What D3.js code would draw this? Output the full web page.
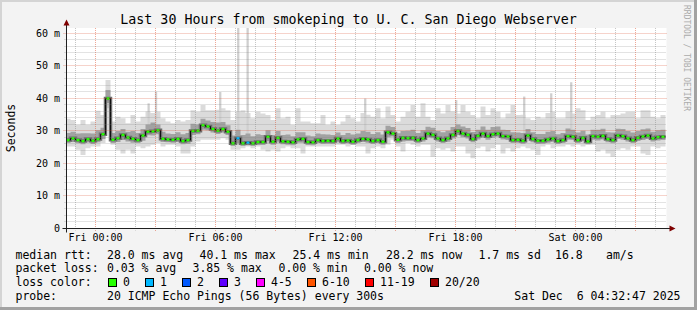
<!DOCTYPE html>
<html><head><meta charset="utf-8">
<script src="https://cdnjs.cloudflare.com/ajax/libs/d3/7.8.5/d3.min.js"></script>
<style>
body{margin:0;background:#f3f3f3}
svg{display:block}
text{font-family:"DejaVu Sans Mono",monospace;fill:#000}
</style>
</head><body>
<svg id="c" width="697" height="310"></svg>
<script>
// ---------------- data ----------------
const title = "Last 30 Hours from smokeping to U. C. San Diego Webserver";
const yAxisTitle = "Seconds";
const windowStartHour = -1.454;   // hours relative to Fri 00:00 (Thu 22:33)
const windowEndHour = 28.546;     // Sat 04:32:47
const firstStepHour = -1.5;       // data steps start Thu 22:30
const stepHours = 0.25;           // 15-minute steps
const pingStepHours = 5/60;       // one probe round every 300 s

// median RTT (ms), one value per 15 minutes
const median = [27.2,27.75,27.2,26.9,27.5,27.0,27.5,29.0,40.0,27.3,
  27.8,28.8,28.0,27.6,27.2,28.6,29.8,29.9,30.2,27.6,
  27.4,27.3,27.6,26.9,27.2,30.0,30.1,31.8,31.4,30.6,
  30.1,30.6,29.8,26.2,27.8,26.2,26.4,26.2,26.6,26.6,
  28.2,26.7,27.9,26.8,26.7,26.5,27.4,27.6,26.6,26.5,
  27.2,26.9,27.0,26.9,27.7,26.9,27.1,26.7,27.2,27.6,
  27.4,26.9,27.2,26.7,29.6,29.2,27.3,27.9,27.8,27.9,
  27.2,27.75,29.2,28.8,27.75,27.2,27.75,28.8,30.0,29.2,
  28.8,27.5,28.5,29.2,28.4,29.0,29.2,28.4,28.3,27.2,
  27.3,27.0,28.6,27.5,27.0,27.0,27.4,27.7,26.9,27.2,
  28.4,28.2,27.2,27.9,26.8,28.4,28.2,28.5,27.5,27.2,
  28.6,28.4,27.75,27.2,27.9,28.3,28.6,27.75,28.1,28.2];

// fastest ping of each step (ms)
const minRtt = [25.2,25.2,24.2,22.6,24.7,25.2,25.2,26.3,37.0,25.8,
  24.2,23.1,24.2,23.1,25.2,24.7,25.2,25.8,26.3,25.2,
  25.8,25.8,25.2,23.1,23.1,25.2,26.8,27.3,27.3,27.3,
  27.3,27.75,27.3,24.2,24.2,24.7,25.2,24.7,25.2,24.2,
  23.7,24.2,23.7,24.7,25.2,24.7,24.7,23.1,25.2,25.2,
  25.2,25.2,25.2,25.2,25.8,25.8,25.2,25.8,25.2,25.2,
  23.1,24.7,25.2,24.7,25.8,27.3,25.2,23.7,26.3,25.8,
  25.2,25.8,25.8,22.1,24.7,24.2,24.7,23.7,25.2,25.2,
  23.1,21.6,24.7,25.2,23.7,24.7,25.8,23.1,24.7,23.7,
  24.7,25.2,24.7,24.2,22.6,25.2,25.8,24.7,25.2,25.2,
  25.8,25.2,25.8,25.2,25.8,25.8,23.7,24.2,23.1,22.1,
  24.2,24.7,24.2,25.2,25.2,23.1,22.6,25.2,24.7,25.2];

// slowest ping of each step (ms), isolated outliers listed separately below
const maxRtt = [33.8,33.4,31.9,33.4,31.9,32.9,36.2,34.9,45.7,32.9,
  34.4,33.9,32.4,34.9,32.9,34.4,36.0,35.5,35.9,33.9,
  32.9,32.4,33.4,32.9,33.4,36.4,35.9,38.0,36.4,36.4,
  36.5,37.0,36.4,33.4,36.0,36.4,35.5,33.9,35.9,35.4,
  34.9,33.4,37.0,33.9,34.4,31.9,37.0,32.9,32.9,32.4,
  32.4,34.9,31.9,32.9,31.9,32.9,34.9,33.9,32.9,35.5,
  35.0,34.4,37.0,33.9,37.5,34.9,32.9,34.4,35.9,38.0,
  34.4,38.5,34.4,33.4,37.0,35.4,38.0,36.0,35.4,38.0,
  35.9,34.9,33.9,37.5,34.9,37.0,35.9,33.9,35.4,38.0,
  34.9,35.0,33.9,33.4,34.4,33.9,35.5,35.9,33.9,33.9,
  36.0,35.4,37.0,36.4,33.4,34.4,34.9,35.9,33.9,34.9,
  34.9,35.4,35.9,35.9,33.9,36.4,36.4,34.4,33.9,34.9];

// single slow pings: [hour relative to Fri 00:00, rtt ms]
const outliers = [[2.6,38.5],[2.97,42.1],[6.18,42.0],[7.08,62.0],[7.55,62.0],
  [13.43,40.0],[17.98,39.5],[21.38,40.6],[22.73,41.6],[23.73,45.0]];

// lower / upper quartile of the pings of each step (ms)
const q25 = [26.3,26.6,26.2,25.9,26.5,26.0,26.5,27.5,38.6,26.3,
  26.6,27.2,26.8,26.4,26.3,27.0,28.7,28.6,29.0,26.6,
  26.5,26.4,26.6,25.9,26.1,28.8,29.0,30.4,30.2,29.5,
  29.1,29.5,28.8,25.4,26.2,25.4,25.6,25.4,25.7,25.7,
  26.9,25.8,26.8,25.9,25.8,25.6,26.4,26.4,25.7,25.6,
  26.3,26.0,26.1,26.0,26.7,26.0,26.2,25.8,26.3,26.6,
  26.4,26.0,26.3,25.8,28.1,28.3,26.3,26.8,26.9,26.9,
  26.3,26.8,28.0,27.8,26.8,26.3,26.7,27.7,28.8,28.1,
  27.7,26.5,27.4,28.0,27.3,27.9,28.2,27.4,27.2,26.3,
  26.4,26.1,27.5,26.5,26.0,26.1,26.4,26.7,26.0,26.3,
  27.3,27.2,26.3,26.9,25.9,27.3,27.1,27.4,26.5,26.2,
  27.5,27.3,26.8,26.3,26.9,27.2,27.5,26.8,27.1,27.2];
const q75 = [29.4,29.8,29.2,29.3,29.3,29.2,30.2,31.0,42.6,29.4,
  30.0,30.6,29.8,30.0,29.4,30.6,32.0,32.6,32.0,29.8,
  29.2,29.1,29.6,29.0,29.4,32.2,32.0,33.8,33.2,32.8,
  32.6,32.8,31.8,28.6,30.4,28.8,29.2,28.4,29.0,28.8,
  30.2,28.8,30.0,28.8,28.9,28.4,29.6,29.6,28.6,28.4,
  29.2,29.0,28.9,28.8,29.5,28.8,29.4,28.9,29.2,30.0,
  29.8,29.1,29.6,28.9,31.6,31.2,29.3,30.0,30.1,30.4,
  29.4,30.2,31.3,31.0,30.0,29.6,30.1,31.2,32.0,31.4,
  30.9,29.7,30.4,31.4,30.4,31.2,31.4,30.4,30.3,29.6,
  29.5,29.4,30.6,29.6,29.1,29.1,29.8,30.0,29.0,29.4,
  30.8,30.4,29.5,30.1,28.9,30.4,30.4,30.7,29.6,29.5,
  30.7,30.6,30.0,29.5,30.0,30.5,30.8,29.8,30.2,30.4];

// steps with lost pings: [step index, pings lost of 20]
const lossEvents = [[34,1],[36,1]];

const yTicks = [0,10,20,30,40,50,60];
const yTickLabels = ["0","10 m","20 m","30 m","40 m","50 m","60 m"];
const xTickHours = [0,6,12,18,24];
const xTickLabels = ["Fri 00:00","Fri 06:00","Fri 12:00","Fri 18:00","Sat 00:00"];

const rttLabel = "median rtt:";
const rttStats = ["28.0 ms avg","40.1 ms max","25.4 ms min","28.2 ms now","1.7 ms sd","16.8","am/s"];
const lossLabel = "packet loss:";
const lossStats = ["0.03 % avg","3.85 % max","0.00 % min","0.00 % now"];
const lossColorLabel = "loss color:";
const lossLegendLabels = ["0","1","2","3","4-5","6-10","11-19","20/20"];
const lossLegendColors = ["#26ff00","#00b8ff","#0059ff","#5e00ff","#ff00ff","#ff5500","#ff0000","#a00000"];
const lossLevelMax = [0,1,2,3,5,10,19,20];
const probeLabel = "probe:";
const probeText = "20 ICMP Echo Pings (56 Bytes) every 300s";
const stampText = "Sat Dec  6 04:32:47 2025";
const watermark = "RRDTOOL / TOBI OETIKER";

// ---------------- layout ----------------
const W = 697, H = 310;
const plotL = 66.5, plotR = 666.5, plotT = 28, plotB = 228.5;
const svg = d3.select("#c");

const x = d3.scaleLinear().domain([windowStartHour, windowEndHour]).range([95.5 - 1.454*20, 95.5 + 28.546*20]);
const y = d3.scaleLinear().domain([0, 61.75]).range([plotB, plotT - 0.2]);
const crisp = v => Math.round(v - 0.5) + 0.5;

// background and 3D frame
svg.append("rect").attr("width", W).attr("height", H).attr("fill", "#f3f3f3");
svg.append("rect").attr("x",0).attr("y",0).attr("width",W).attr("height",2).attr("fill","#d4d4d4");
svg.append("rect").attr("x",0).attr("y",0).attr("width",2).attr("height",H).attr("fill","#d4d4d4");
svg.append("rect").attr("x",W-3).attr("y",0).attr("width",3).attr("height",H).attr("fill","#a2a2a2");
svg.append("rect").attr("x",0).attr("y",H-3).attr("width",W).attr("height",3).attr("fill","#a2a2a2");

// canvas
svg.append("rect").attr("x", plotL).attr("y", plotT).attr("width", plotR - plotL).attr("height", plotB - plotT).attr("fill", "#fff");
svg.append("clipPath").attr("id","clip").append("rect")
  .attr("x", plotL + 0.5).attr("y", plotT).attr("width", plotR - plotL - 0.5).attr("height", plotB - plotT);

// step points
const pts = median.map((m, k) => ({t: firstStepHour + k*stepHours, med: m, lo: minRtt[k], hi: maxRtt[k], q1: q25[k], q3: q75[k], k}));
const closing = Object.assign({}, pts[pts.length-1], {t: firstStepHour + median.length*stepHours});
const ptsC = pts.concat([closing]);
const medAt = h => median[Math.max(0, Math.min(median.length-1, Math.floor((h - firstStepHour)/stepHours)))];

const g = svg.append("g").attr("clip-path","url(#clip)");
const band = (a, b) => d3.area().curve(d3.curveStepAfter).x(d => x(d.t)).y0(d => y(d[a])).y1(d => y(d[b]));
g.append("path").datum(ptsC).attr("d", band("lo","hi")).attr("fill","#dbdbdb");
g.selectAll("rect.out").data(outliers).join("rect").attr("class","out")
  .attr("x", d => x(d[0])).attr("width", x(pingStepHours) - x(0) + 0.6)
  .attr("y", d => y(d[1])).attr("height", d => y(medAt(d[0])) - y(d[1]))
  .attr("fill", "#cfcfcf");
g.append("path").datum(ptsC).attr("d", band("q1","q3")).attr("fill","#a2a2a2");
const medLine = d3.line().curve(d3.curveStepAfter).x(d => x(d.t)).y(d => y(d.med));
g.append("path").datum(ptsC).attr("d", medLine).attr("fill","none").attr("stroke","#6e6e6e").attr("stroke-width",3.5);
g.append("path").datum(ptsC).attr("d", medLine).attr("fill","none").attr("stroke","#111").attr("stroke-width",1);

const lossMap = new Map(lossEvents);
const lossColor = n => lossLegendColors[lossLevelMax.findIndex(m => n <= m)];
g.selectAll("rect.med").data(pts).join("rect").attr("class","med")
  .attr("x", d => x(d.t) + 1).attr("width", d => x(d.t + stepHours) - x(d.t) - 2)
  .attr("y", d => y(d.med) - 1.2).attr("height", 2.4)
  .attr("fill", d => lossColor(lossMap.get(d.k) || 0));

// grid (drawn over the data, semi-transparent)
const minorGrid = "rgba(128,128,128,0.45)", majorGrid = "rgba(222,80,48,0.5)";
const grid = svg.append("g");
for (let h = Math.ceil(windowStartHour); h <= windowEndHour; h++) {
  const xx = crisp(x(h));
  const major = h % 3 === 0;
  grid.append("line").attr("x1", xx).attr("x2", xx).attr("y1", plotT).attr("y2", plotB + (major ? 3 : 2))
    .attr("stroke", major ? majorGrid : minorGrid).attr("stroke-dasharray", "1,1");
}
for (let v = 2; v <= 60; v += 2) {
  const yy = crisp(y(v));
  const major = v % 10 === 0;
  grid.append("line").attr("x1", plotL - (major ? 3 : 2)).attr("x2", plotR).attr("y1", yy).attr("y2", yy)
    .attr("stroke", major ? majorGrid : minorGrid).attr("stroke-dasharray", "1,1");
}

// axes
const axisCol = "#202020", arrowCol = "#7f0000";
svg.append("line").attr("x1", plotL).attr("x2", plotL).attr("y1", plotB + 4).attr("y2", 22).attr("stroke", axisCol);
svg.append("line").attr("x1", plotL - 4).attr("x2", 671).attr("y1", plotB).attr("y2", plotB).attr("stroke", axisCol);
svg.append("path").attr("d", `M${plotL-3},25.5L${plotL+3},25.5L${plotL},19.5Z`).attr("fill", arrowCol);
svg.append("path").attr("d", `M669.5,${plotB-3}L669.5,${plotB+3}L675.5,${plotB}Z`).attr("fill", arrowCol);

// tick labels
svg.selectAll("text.yl").data(yTicks).join("text").attr("class","yl")
  .attr("x", 60).attr("y", d => y(d) + 3.5).attr("text-anchor","end").attr("font-size","10px")
  .text((d,i) => yTickLabels[i]);
svg.selectAll("text.xl").data(xTickHours).join("text").attr("class","xl")
  .attr("x", d => x(d)).attr("y", 241).attr("text-anchor","middle").attr("font-size","10px")
  .text((d,i) => xTickLabels[i]);

// titles
svg.append("text").attr("x", 348.5).attr("y", 24).attr("text-anchor","middle").attr("font-size","13.3px").text(title);
svg.append("text").attr("transform","translate(15,128) rotate(-90)").attr("text-anchor","middle").attr("font-size","11.5px").text(yAxisTitle);
svg.append("text").attr("transform","translate(684,5) rotate(90)").attr("font-size","8px").style("fill","#ababab").text(watermark);

// legend
const lf = "11.5px";
const leg = svg.append("g").attr("font-size", lf);
const rowY = [258.5, 272, 286, 299.5];
const addText = (t, xx, yy, anchor) => leg.append("text").attr("x", xx).attr("y", yy)
  .attr("text-anchor", anchor || "start").attr("xml:space","preserve").style("white-space","pre").text(t);
const rttX = [107, 199.5, 292.5, 386, 478.5, 555, 606];
const lossX = [107, 192.5, 278.5, 364];
addText(rttLabel, 15.5, rowY[0]);
rttStats.forEach((t,i) => addText(t, rttX[i], rowY[0]));
addText(lossLabel, 15.5, rowY[1]);
lossStats.forEach((t,i) => addText(t, lossX[i], rowY[1]));
addText(lossColorLabel, 15.5, rowY[2]);
const boxX = [108.5, 145.5, 182.5, 219.5, 256.5, 307.5, 365.5, 430.5];
lossLegendLabels.forEach((t,i) => {
  leg.append("rect").attr("x", boxX[i]).attr("y", 278.5).attr("width", 8).attr("height", 8)
    .attr("fill", lossLegendColors[i]).attr("stroke", "#000").attr("stroke-width", 1);
  addText(t, boxX[i] + 14.5, rowY[2]);
});
addText(probeLabel, 15.5, rowY[3]);
addText(probeText, 107, rowY[3]);
addText(stampText, 680.5, rowY[3], "end");
</script>
</body></html>
